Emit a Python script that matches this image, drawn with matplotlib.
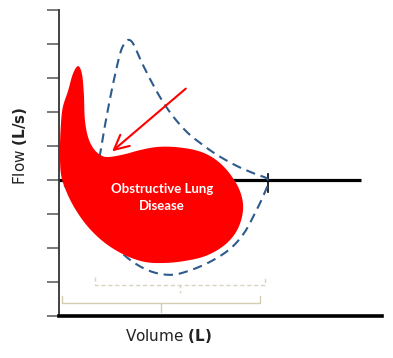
import numpy as np
import matplotlib
matplotlib.use("Agg")
import matplotlib.pyplot as plt

# obstructive loop outline (volume L, flow L/s)
obs_vol = [0.59, 0.71, 0.77, 0.80, 0.90, 1.08, 1.33, 1.58, 2.04, 2.51, 3.03, 3.59,
           4.21, 4.67, 5.05, 5.36, 5.60, 5.70, 5.63, 5.42, 5.05, 4.52, 3.90, 3.28,
           2.66, 2.04, 1.42, 0.90, 0.50, 0.22, 0.06, 0.03, 0.06, 0.12, 0.28, 0.43]
obs_flow = [3.35, 3.12, 2.53, 1.79, 1.26, 0.91, 0.71, 0.68, 0.76, 0.88, 0.97, 0.97,
            0.88, 0.71, 0.44, 0.09, -0.32, -0.76, -1.21, -1.62, -1.97, -2.24, -2.38, -2.44,
            -2.41, -2.21, -1.85, -1.38, -0.85, -0.32, 0.18, 0.91, 1.65, 2.15, 2.62, 3.12]

# normal loop (dashed), the left part sits under the red loop
norm_vol = [0.12, 0.65, 1.18, 1.27, 1.42, 1.64, 1.89, 2.04, 2.17, 2.32, 2.60, 3.07,
            3.50, 3.96, 4.37, 4.89, 5.51, 6.07, 6.47, 6.35, 6.07, 5.73, 5.29, 4.67,
            3.99, 3.44, 2.82, 2.20, 1.64, 1.11, 0.50]
norm_flow = [0.00, 0.18, 0.47, 0.76, 1.59, 2.68, 3.71, 4.03, 4.12, 3.97, 3.38, 2.53,
             1.91, 1.41, 1.09, 0.74, 0.41, 0.18, 0.00, -0.41, -0.97, -1.56, -2.03, -2.41,
             -2.68, -2.79, -2.68, -2.35, -1.85, -1.29, -0.56]

flow_ticks = [-4, -3, -2, -1, 0, 1, 2, 3, 4, 5]
label_lines = ["Obstructive Lung", "Disease"]


def smooth_closed(xs, ys, n=16):
    # closed catmull-rom through the traced points
    pts = np.column_stack([xs, ys])
    P = np.vstack([pts[-1], pts, pts[0], pts[1]])
    t = np.linspace(0, 1, n, endpoint=False)[:, None]
    out = []
    for i in range(1, len(pts) + 1):
        p0, p1, p2, p3 = P[i - 1], P[i], P[i + 1], P[i + 2]
        out.append(0.5 * (2 * p1 + (-p0 + p2) * t
                          + (2 * p0 - 5 * p1 + 4 * p2 - p3) * t ** 2
                          + (-p0 + 3 * p1 - 3 * p2 + p3) * t ** 3))
    out.append(pts[:1])
    out = np.vstack(out)
    return out[:, 0], out[:, 1]


fig = plt.figure(figsize=(3.93, 3.58), dpi=100)
ax = fig.add_axes([59 / 393, 42 / 358, 323 / 393, 306 / 358])
ax.set_xlim(0, 10)
ax.set_ylim(-4, 5)

# zero flow line
ax.plot([0, 9.35], [0, 0], color="black", lw=2.3, zorder=1, solid_capstyle="butt")
ax.plot([6.47, 6.47], [0.18, -0.35], color="black", lw=1.2, zorder=2)

nx, ny = smooth_closed(norm_vol, norm_flow)
ax.plot(nx, ny, color="#2f5a8c", lw=1.5, dashes=(4.5, 2.8), zorder=2)

ox, oy = smooth_closed(obs_vol, obs_flow)
ax.fill(ox, oy, color="#ff0000", lw=0, zorder=3)

ax.text(3.19, -0.26, label_lines[0], color="white", fontweight="bold",
        fontsize=9.5, family="Lato", ha="center", va="center", zorder=4)
ax.text(3.19, -0.76, label_lines[1], color="white", fontweight="bold",
        fontsize=9.5, family="Lato", ha="center", va="center", zorder=4)

ax.annotate("", xy=(1.58, 0.79), xytext=(3.99, 2.74), zorder=5,
            arrowprops=dict(arrowstyle="->,head_length=0.7,head_width=0.35",
                            color="red", lw=1.5, mutation_scale=15))

# brackets under the loops
ax.plot([0.09, 0.09, 6.22, 6.22], [-3.41, -3.62, -3.62, -3.41], color="#d3cdb2", lw=1.0)
ax.plot([3.16, 3.16], [-3.62, -3.88], color="#d3cdb2", lw=1.0)
ax.plot([1.11, 1.11, 6.38, 6.38], [-2.85, -3.09, -3.09, -2.85], color="#d9d4bf",
        lw=1.0, dashes=(3, 2))
ax.plot([3.75, 3.75], [-3.09, -3.32], color="#d9d4bf", lw=1.0, dashes=(2, 2))

for s in ["top", "right"]:
    ax.spines[s].set_visible(False)
ax.spines["left"].set_linewidth(1.3)
ax.spines["left"].set_color("#333333")
ax.spines["bottom"].set_linewidth(2.6)
ax.spines["bottom"].set_color("black")
ax.set_yticks(flow_ticks)
ax.set_xticks([])
ax.tick_params(axis="y", direction="out", length=8.6, width=1.1, color="#555555",
               labelleft=False)

fig.text(20 / 393, 1 - 146 / 358, "Flow $\\mathbf{(L/s)}$", rotation=90,
         ha="center", va="center", fontsize=11, color="#222222")
fig.text(169 / 393, 1 - 336 / 358, "Volume $\\mathbf{(L)}$",
         ha="center", va="center", fontsize=11, color="#222222")

fig.savefig("out.png", dpi=100)
